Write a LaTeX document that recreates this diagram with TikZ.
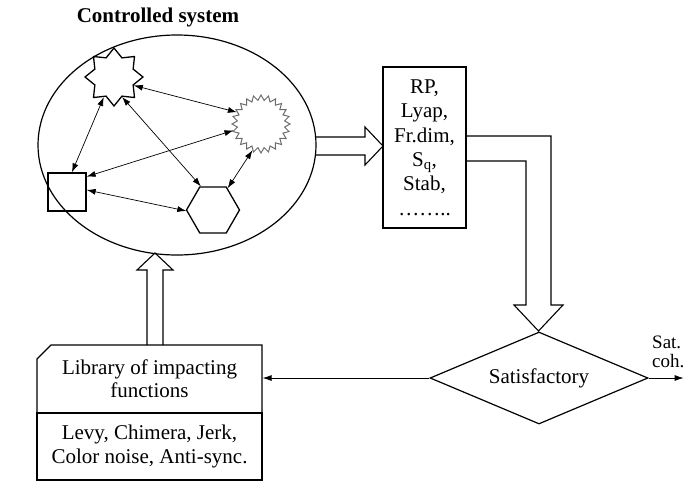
\documentclass[tikz,border=0pt]{standalone}
\usepackage{fontspec}
\setmainfont{Liberation Serif}
\usetikzlibrary{shapes.geometric}
\usetikzlibrary{shapes.misc}
\usetikzlibrary{positioning}
\usetikzlibrary{arrows.meta}

\begin{document}
\begin{tikzpicture}[x=1pt,y=-1pt,>={Latex[length=9pt,width=6pt]},
	font=\fontsize{21}{24.4}\selectfont,
	shape node/.style={draw,line width=1.3pt,inner sep=0pt},
	box node/.style={draw,line width=1.2pt,inner sep=0pt,align=center},
	fat arrow/.style={draw,line width=1.1pt,line join=miter},
	link/.style={<->,line width=0.7pt}]

	\useasboundingbox (0,0) rectangle (684,483);

	% controlled system
	\node[draw,ellipse,line width=1.2pt,minimum width=278pt,minimum height=220pt,inner sep=0pt] (sys) at (177,145) {};
	\node[anchor=base,font=\fontsize{21}{25}\selectfont\bfseries] (title) at (158,22) {Controlled system};

	\node[shape node,star,star points=8,star point ratio=1.4,minimum size=58pt] (star) at (114,77) {};
	\node[shape node,star,star points=24,star point ratio=1.22,minimum size=58pt,draw=gray!85!black,line width=1pt] (sun) at (261,124) {};
	\node[shape node,minimum size=38pt] (sq) at (67,192) {};
	\node[shape node,regular polygon,regular polygon sides=6,minimum size=53pt] (hex) at (213,210) {};

	\draw[link] (star.337) -- (sun.154);
	\draw[link] (star.243) -- (sq.76);
	\draw[link] (star.292) -- (hex.117);
	\draw[link] (sq.38) -- (sun.193);
	\draw[link] (sq.6) -- (hex.182);
	\draw[link] (sun.252) -- (hex.56);

	% measures
	\node[box node,minimum width=83pt,minimum height=161pt] (meas) at (424.5,147.5) {RP,\\Lyap,\\Fr.dim,\\S\textsubscript{q},\\Stab,\\……..};
	\draw[fat arrow] (315,137) -- (365,137) -- (365,127) -- (383,146) -- (365,165) -- (365,155) -- (315,155);
	\draw[fat arrow] (466,136) -| (551,305) -- (563,305) -- (538.5,331) -- (514,305) -- (526,305) |- (466,161);

	% decision
	\node[box node,diamond,aspect=2.37,minimum width=218pt,minimum height=92pt] (sat) at (539,378) {Satisfactory};
	\coordinate[right=35pt of sat.east] (satout);
	\draw[->,line width=0.8pt] (sat.east) -- (satout);
	\node[anchor=south west,align=left,inner sep=0pt,font=\fontsize{19}{19.5}\selectfont] (satlbl) at (652,368) {Sat.\\coh.};

	% library
	\node[box node,chamfered rectangle,chamfered rectangle corners=north west,chamfered rectangle xsep=11pt,
		minimum width=225pt,minimum height=68pt,font=\fontsize{21}{23}\selectfont] (lib) at (149.5,379) {Library of impacting\\functions};
	\node[box node,minimum width=225pt,minimum height=67pt,below=-1.2pt of lib] (libfun) {Levy, Chimera, Jerk,\\Color noise, Anti-sync.};
	\draw[->,line width=0.8pt] (sat.west) -- (sat.west -| lib.east);
	\draw[fat arrow] (147,345) -- (147,270) -- (137,270) -- (155,253) -- (173,270) -- (163,270) -- (163,345);
\end{tikzpicture}
\end{document}
